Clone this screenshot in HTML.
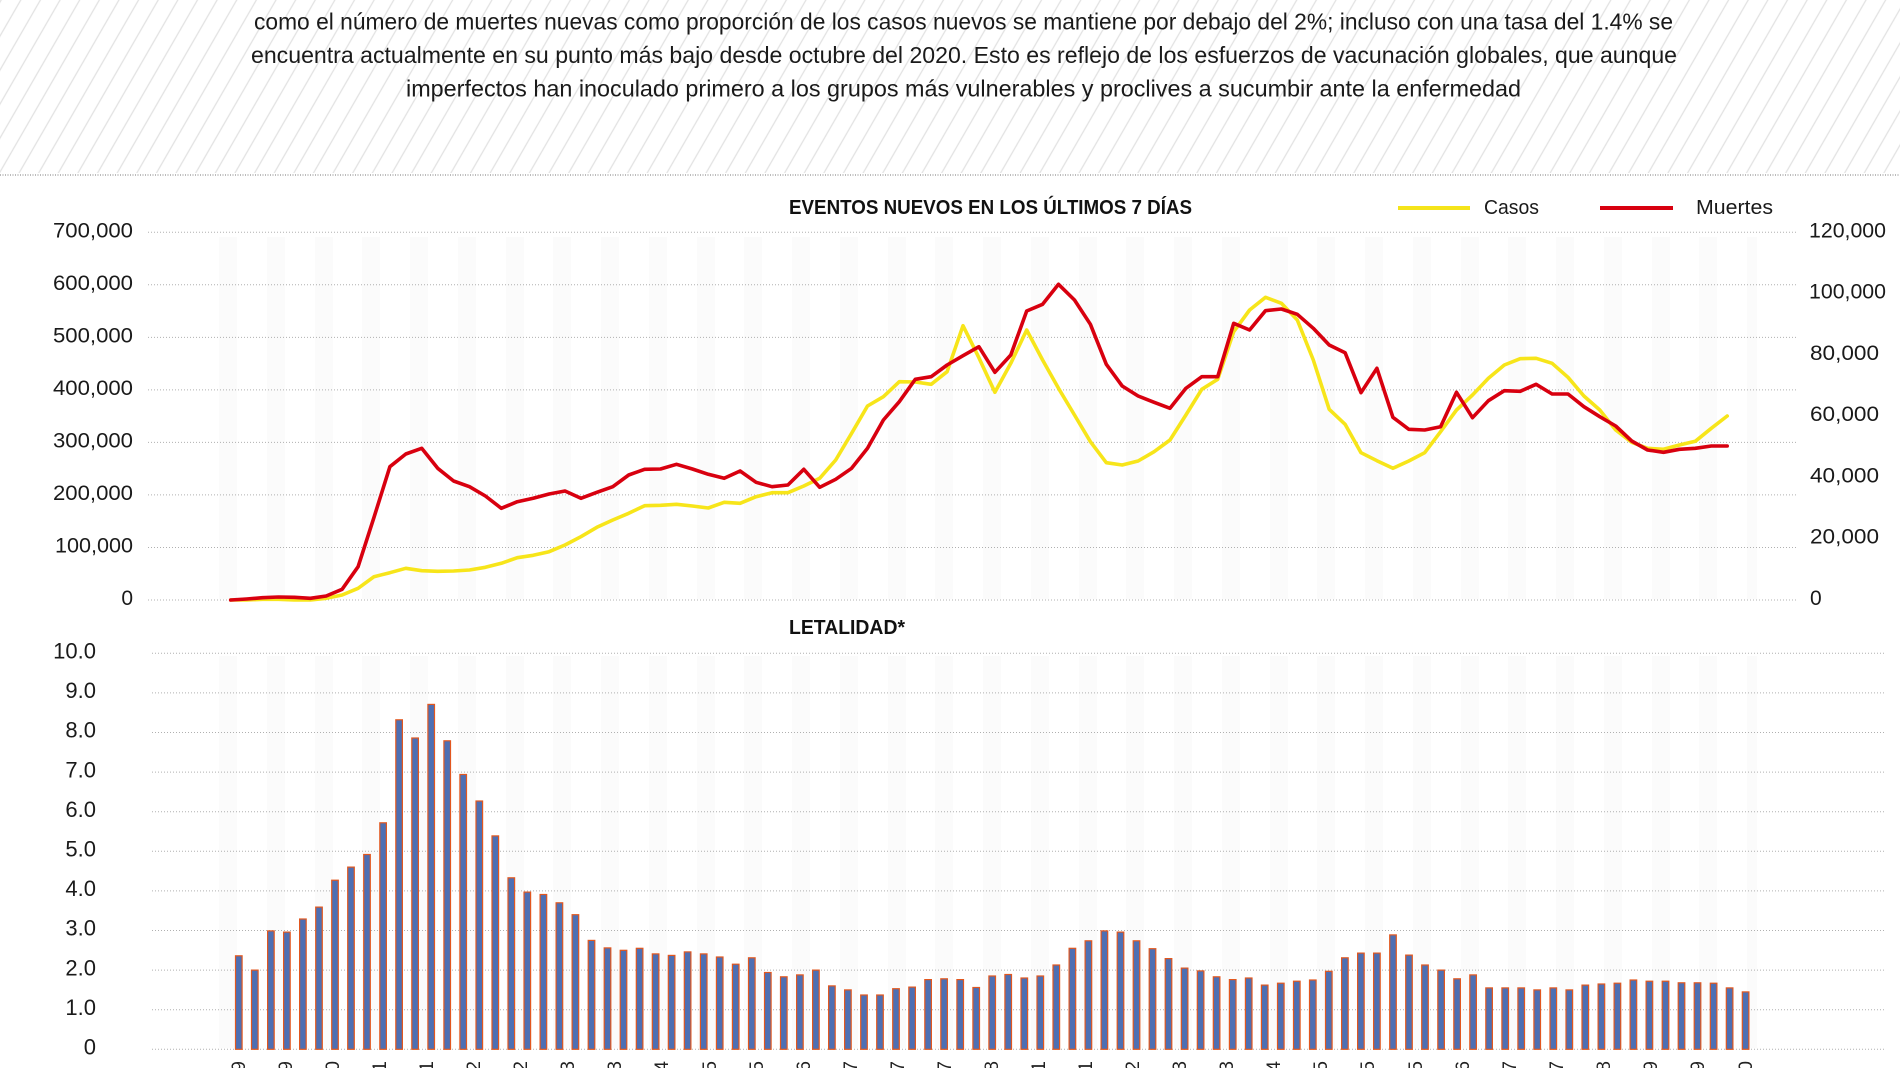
<!DOCTYPE html>
<html><head><meta charset="utf-8"><style>
html,body{margin:0;padding:0;background:#fff;width:1900px;height:1068px;overflow:hidden;}
svg{display:block;}
text{font-family:"Liberation Sans",Arial,sans-serif;}
</style></head><body>
<svg width="1900" height="1068" viewBox="0 0 1900 1068" xmlns="http://www.w3.org/2000/svg">
<defs>
<pattern id="h" width="17" height="40" patternUnits="userSpaceOnUse" patternTransform="rotate(30)">
<line x1="1" y1="0" x2="1" y2="40" stroke="#e2e2e2" stroke-width="1.3"/>
</pattern>
<clipPath id="cl"><rect x="0" y="1050" width="1900" height="18"/></clipPath>
</defs>
<rect x="0" y="0" width="1900" height="1068" fill="#fff"/>
<rect x="0" y="0" width="1900" height="173" fill="url(#h)"/>
<!-- header text -->
<g fill="#1a1a1a" font-size="23">
<text x="254" y="29.5" textLength="1419" lengthAdjust="spacingAndGlyphs">como el número de muertes nuevas como proporción de los casos nuevos se mantiene por debajo del 2%; incluso con una tasa del 1.4% se</text>
<text x="251" y="63" textLength="1426" lengthAdjust="spacingAndGlyphs">encuentra actualmente en su punto más bajo desde octubre del 2020. Esto es reflejo de los esfuerzos de vacunación globales, que aunque</text>
<text x="406" y="96.5" textLength="1115" lengthAdjust="spacingAndGlyphs">imperfectos han inoculado primero a los grupos más vulnerables y proclives a sucumbir ante la enfermedad</text>
</g>
<line x1="0" y1="175" x2="1900" y2="175" stroke="#777" stroke-width="1" stroke-dasharray="1 1.5"/>

<!-- faint vertical bands -->
<g fill="#fbfbfb">
<rect x="219" y="237" width="18" height="362"/><rect x="267" y="237" width="18" height="362"/><rect x="315" y="237" width="18" height="362"/><rect x="362" y="237" width="18" height="362"/><rect x="410" y="237" width="18" height="362"/><rect x="458" y="237" width="18" height="362"/><rect x="506" y="237" width="18" height="362"/><rect x="553" y="237" width="18" height="362"/><rect x="601" y="237" width="18" height="362"/><rect x="649" y="237" width="18" height="362"/><rect x="697" y="237" width="18" height="362"/><rect x="744" y="237" width="18" height="362"/><rect x="792" y="237" width="18" height="362"/><rect x="840" y="237" width="18" height="362"/><rect x="888" y="237" width="18" height="362"/><rect x="935" y="237" width="18" height="362"/><rect x="983" y="237" width="18" height="362"/><rect x="1031" y="237" width="18" height="362"/><rect x="1079" y="237" width="18" height="362"/><rect x="1126" y="237" width="18" height="362"/><rect x="1174" y="237" width="18" height="362"/><rect x="1222" y="237" width="18" height="362"/><rect x="1270" y="237" width="18" height="362"/><rect x="1317" y="237" width="18" height="362"/><rect x="1365" y="237" width="18" height="362"/><rect x="1413" y="237" width="18" height="362"/><rect x="1461" y="237" width="18" height="362"/><rect x="1508" y="237" width="18" height="362"/><rect x="1556" y="237" width="18" height="362"/><rect x="1604" y="237" width="18" height="362"/><rect x="1652" y="237" width="18" height="362"/><rect x="1699" y="237" width="18" height="362"/><rect x="1747" y="237" width="10" height="362"/>
<rect x="219" y="656" width="18" height="392"/><rect x="267" y="656" width="18" height="392"/><rect x="315" y="656" width="18" height="392"/><rect x="362" y="656" width="18" height="392"/><rect x="410" y="656" width="18" height="392"/><rect x="458" y="656" width="18" height="392"/><rect x="506" y="656" width="18" height="392"/><rect x="553" y="656" width="18" height="392"/><rect x="601" y="656" width="18" height="392"/><rect x="649" y="656" width="18" height="392"/><rect x="697" y="656" width="18" height="392"/><rect x="744" y="656" width="18" height="392"/><rect x="792" y="656" width="18" height="392"/><rect x="840" y="656" width="18" height="392"/><rect x="888" y="656" width="18" height="392"/><rect x="935" y="656" width="18" height="392"/><rect x="983" y="656" width="18" height="392"/><rect x="1031" y="656" width="18" height="392"/><rect x="1079" y="656" width="18" height="392"/><rect x="1126" y="656" width="18" height="392"/><rect x="1174" y="656" width="18" height="392"/><rect x="1222" y="656" width="18" height="392"/><rect x="1270" y="656" width="18" height="392"/><rect x="1317" y="656" width="18" height="392"/><rect x="1365" y="656" width="18" height="392"/><rect x="1413" y="656" width="18" height="392"/><rect x="1461" y="656" width="18" height="392"/><rect x="1508" y="656" width="18" height="392"/><rect x="1556" y="656" width="18" height="392"/><rect x="1604" y="656" width="18" height="392"/><rect x="1652" y="656" width="18" height="392"/><rect x="1699" y="656" width="18" height="392"/><rect x="1747" y="656" width="10" height="392"/>
</g>

<!-- top chart gridlines -->
<g stroke="#b0b0b0" stroke-width="1" stroke-dasharray="1 2">
<line x1="148" y1="232.3" x2="1797" y2="232.3"/>
<line x1="148" y1="284.8" x2="1797" y2="284.8"/>
<line x1="148" y1="337.4" x2="1797" y2="337.4"/>
<line x1="148" y1="389.9" x2="1797" y2="389.9"/>
<line x1="148" y1="442.4" x2="1797" y2="442.4"/>
<line x1="148" y1="494.9" x2="1797" y2="494.9"/>
<line x1="148" y1="547.5" x2="1797" y2="547.5"/>
<line x1="148" y1="600" x2="1797" y2="600"/>
</g>
<!-- top left labels -->
<g fill="#1a1a1a" font-size="21" text-anchor="end">
<text x="133" y="237.3" textLength="80" lengthAdjust="spacingAndGlyphs">700,000</text>
<text x="133" y="289.8" textLength="80" lengthAdjust="spacingAndGlyphs">600,000</text>
<text x="133" y="342.4" textLength="80" lengthAdjust="spacingAndGlyphs">500,000</text>
<text x="133" y="394.9" textLength="80" lengthAdjust="spacingAndGlyphs">400,000</text>
<text x="133" y="447.4" textLength="80" lengthAdjust="spacingAndGlyphs">300,000</text>
<text x="133" y="499.9" textLength="80" lengthAdjust="spacingAndGlyphs">200,000</text>
<text x="133" y="552.5" textLength="78" lengthAdjust="spacingAndGlyphs">100,000</text>
<text x="133" y="605">0</text>
</g>
<!-- top right labels -->
<g fill="#1a1a1a" font-size="21">
<text x="1809" y="237.3" textLength="77" lengthAdjust="spacingAndGlyphs">120,000</text>
<text x="1809" y="298.6" textLength="77" lengthAdjust="spacingAndGlyphs">100,000</text>
<text x="1810" y="359.9" textLength="69" lengthAdjust="spacingAndGlyphs">80,000</text>
<text x="1810" y="421.2" textLength="69" lengthAdjust="spacingAndGlyphs">60,000</text>
<text x="1810" y="482.4" textLength="69" lengthAdjust="spacingAndGlyphs">40,000</text>
<text x="1810" y="543.7" textLength="69" lengthAdjust="spacingAndGlyphs">20,000</text>
<text x="1810" y="605">0</text>
</g>
<!-- titles -->
<text x="789" y="214" font-size="20" font-weight="bold" fill="#111" textLength="403" lengthAdjust="spacingAndGlyphs">EVENTOS NUEVOS EN LOS ÚLTIMOS 7 DÍAS</text>
<text x="789" y="634" font-size="20" font-weight="bold" fill="#111" textLength="116" lengthAdjust="spacingAndGlyphs">LETALIDAD*</text>
<!-- legend -->
<line x1="1398" y1="208" x2="1470" y2="208" stroke="#f5e41a" stroke-width="4"/>
<text x="1484" y="214" font-size="20" fill="#1a1a1a" textLength="55" lengthAdjust="spacingAndGlyphs">Casos</text>
<line x1="1600" y1="208" x2="1673" y2="208" stroke="#d8000f" stroke-width="4"/>
<text x="1696" y="214" font-size="20" fill="#1a1a1a" textLength="77" lengthAdjust="spacingAndGlyphs">Muertes</text>

<!-- Casos line -->
<polyline fill="none" stroke="#f7e51a" stroke-width="3.6" stroke-linejoin="round" stroke-linecap="round" points="230.7,600 246.6,600 262.5,599.3 278.5,599.3 294.4,600 310.3,600 326.2,598.3 342.1,595 358.1,588.3 374.0,576.7 389.9,572.7 405.8,568.3 421.7,570.7 437.7,571.3 453.6,571 469.5,570 485.4,567.3 501.3,563.3 517.3,557.7 533.2,555.3 549.1,551.7 565.0,545 580.9,536.7 596.9,527.3 612.8,520 628.7,513.3 644.6,505.7 660.5,505.3 676.5,504.3 692.4,506 708.3,508 724.2,502.3 740.1,503.3 756.1,496.7 772.0,492.7 787.9,492.7 803.8,486 819.7,478.3 835.7,460 851.6,433.3 867.5,406 883.4,396.7 899.3,381.7 915.3,382 931.2,384.3 947.1,371.7 963.0,325.7 978.9,357.7 994.9,392.3 1010.8,363.3 1026.7,330 1042.6,360 1058.5,388.3 1074.5,415 1090.4,441.7 1106.3,462.7 1122.2,465 1138.1,461 1154.1,451.7 1170.0,440 1185.9,415 1201.8,389.3 1217.7,379.3 1233.7,331.7 1249.6,310 1265.5,297.3 1281.4,303.3 1297.3,320 1313.3,360 1329.2,409.3 1345.1,424.3 1361.0,452.7 1376.9,460.7 1392.9,468.3 1408.8,461 1424.7,452.7 1440.6,431.7 1456.5,410 1472.5,395 1488.4,378.3 1504.3,365 1520.2,358.7 1536.1,358.3 1552.1,363.3 1568.0,377.3 1583.9,396 1599.8,410 1615.7,430 1631.7,442.3 1647.6,448.3 1663.5,449.3 1679.4,445 1695.3,441.3 1711.3,428.3 1727.2,416"/>
<!-- Muertes line -->
<polyline fill="none" stroke="#d8000f" stroke-width="3.6" stroke-linejoin="round" stroke-linecap="round" points="230.7,600 246.6,599 262.5,597.7 278.5,597 294.4,597.3 310.3,598.3 326.2,596 342.1,589.3 358.1,566.7 374.0,517.3 389.9,466.7 405.8,454 421.7,448.3 437.7,468.3 453.6,481 469.5,486.7 485.4,496 501.3,508.3 517.3,501.7 533.2,498.3 549.1,494 565.0,491 580.9,498.3 596.9,492.3 612.8,486.7 628.7,475 644.6,469.3 660.5,469 676.5,464.3 692.4,469 708.3,474.3 724.2,478.3 740.1,471 756.1,482.3 772.0,486.7 787.9,485 803.8,469.3 819.7,487.3 835.7,479.3 851.6,468.3 867.5,448.3 883.4,420 899.3,401.7 915.3,379.3 931.2,376.7 947.1,365 963.0,355.7 978.9,346.7 994.9,372.3 1010.8,355 1026.7,311 1042.6,304.3 1058.5,284.3 1074.5,300 1090.4,324.3 1106.3,364.3 1122.2,386 1138.1,396 1154.1,402.3 1170.0,408.3 1185.9,388.3 1201.8,376.7 1217.7,376.7 1233.7,323.3 1249.6,330 1265.5,310.7 1281.4,309 1297.3,314.3 1313.3,328.3 1329.2,345 1345.1,352.7 1361.0,392.7 1376.9,368.3 1392.9,417.3 1408.8,429.3 1424.7,430 1440.6,426.7 1456.5,392.3 1472.5,417.7 1488.4,400.7 1504.3,390.7 1520.2,391.3 1536.1,384.3 1552.1,394 1568.0,394 1583.9,406.7 1599.8,416.7 1615.7,426 1631.7,441 1647.6,450 1663.5,452.3 1679.4,449.3 1695.3,448.3 1711.3,446 1727.2,446"/>

<!-- bottom chart gridlines -->
<g stroke="#b0b0b0" stroke-width="1" stroke-dasharray="1 2">
<line x1="152" y1="653.3" x2="1886" y2="653.3"/>
<line x1="152" y1="692.9" x2="1886" y2="692.9"/>
<line x1="152" y1="732.5" x2="1886" y2="732.5"/>
<line x1="152" y1="772.1" x2="1886" y2="772.1"/>
<line x1="152" y1="811.7" x2="1886" y2="811.7"/>
<line x1="152" y1="851.3" x2="1886" y2="851.3"/>
<line x1="152" y1="890.9" x2="1886" y2="890.9"/>
<line x1="152" y1="930.5" x2="1886" y2="930.5"/>
<line x1="152" y1="970.1" x2="1886" y2="970.1"/>
<line x1="152" y1="1009.7" x2="1886" y2="1009.7"/>
<line x1="152" y1="1049.3" x2="1886" y2="1049.3"/>
</g>
<g fill="#1a1a1a" font-size="22" text-anchor="end">
<text x="96" y="658.5">10.0</text>
<text x="96" y="698.1">9.0</text>
<text x="96" y="737.7">8.0</text>
<text x="96" y="777.3">7.0</text>
<text x="96" y="816.9">6.0</text>
<text x="96" y="856.5">5.0</text>
<text x="96" y="896.1">4.0</text>
<text x="96" y="935.7">3.0</text>
<text x="96" y="975.3">2.0</text>
<text x="96" y="1014.9">1.0</text>
<text x="96" y="1054.5">0</text>
</g>

<!-- bars -->
<g transform="translate(0,1049.3) scale(1,-1)" fill="#4e6fb3" stroke="#e2571f" stroke-width="1.2">
<rect x="235.5" y="0" width="6.6" height="93.5"/>
<rect x="251.5" y="0" width="6.6" height="79.2"/>
<rect x="267.6" y="0" width="6.6" height="118.4"/>
<rect x="283.6" y="0" width="6.6" height="117.2"/>
<rect x="299.6" y="0" width="6.6" height="130.3"/>
<rect x="315.7" y="0" width="6.6" height="142.2"/>
<rect x="331.7" y="0" width="6.6" height="169.1"/>
<rect x="347.7" y="0" width="6.6" height="182.2"/>
<rect x="363.7" y="0" width="6.6" height="194.8"/>
<rect x="379.8" y="0" width="6.6" height="226.5"/>
<rect x="395.8" y="0" width="6.6" height="329.5"/>
<rect x="411.8" y="0" width="6.6" height="311.3"/>
<rect x="427.9" y="0" width="6.6" height="344.9"/>
<rect x="443.9" y="0" width="6.6" height="308.5"/>
<rect x="459.9" y="0" width="6.6" height="274.8"/>
<rect x="476.0" y="0" width="6.6" height="248.3"/>
<rect x="492.0" y="0" width="6.6" height="213.4"/>
<rect x="508.0" y="0" width="6.6" height="171.5"/>
<rect x="524.0" y="0" width="6.6" height="157.2"/>
<rect x="540.1" y="0" width="6.6" height="154.8"/>
<rect x="556.1" y="0" width="6.6" height="146.5"/>
<rect x="572.1" y="0" width="6.6" height="134.6"/>
<rect x="588.2" y="0" width="6.6" height="108.9"/>
<rect x="604.2" y="0" width="6.6" height="101.4"/>
<rect x="620.2" y="0" width="6.6" height="99.0"/>
<rect x="636.3" y="0" width="6.6" height="101.0"/>
<rect x="652.3" y="0" width="6.6" height="95.4"/>
<rect x="668.3" y="0" width="6.6" height="93.9"/>
<rect x="684.3" y="0" width="6.6" height="97.4"/>
<rect x="700.4" y="0" width="6.6" height="95.4"/>
<rect x="716.4" y="0" width="6.6" height="92.3"/>
<rect x="732.4" y="0" width="6.6" height="85.1"/>
<rect x="748.5" y="0" width="6.6" height="91.5"/>
<rect x="764.5" y="0" width="6.6" height="76.8"/>
<rect x="780.5" y="0" width="6.6" height="72.5"/>
<rect x="796.6" y="0" width="6.6" height="74.4"/>
<rect x="812.6" y="0" width="6.6" height="79.2"/>
<rect x="828.6" y="0" width="6.6" height="63.4"/>
<rect x="844.6" y="0" width="6.6" height="59.4"/>
<rect x="860.7" y="0" width="6.6" height="54.3"/>
<rect x="876.7" y="0" width="6.6" height="54.3"/>
<rect x="892.7" y="0" width="6.6" height="60.6"/>
<rect x="908.8" y="0" width="6.6" height="62.2"/>
<rect x="924.8" y="0" width="6.6" height="69.7"/>
<rect x="940.8" y="0" width="6.6" height="70.5"/>
<rect x="956.9" y="0" width="6.6" height="69.7"/>
<rect x="972.9" y="0" width="6.6" height="61.8"/>
<rect x="988.9" y="0" width="6.6" height="73.3"/>
<rect x="1004.9" y="0" width="6.6" height="74.8"/>
<rect x="1021.0" y="0" width="6.6" height="71.3"/>
<rect x="1037.0" y="0" width="6.6" height="73.3"/>
<rect x="1053.0" y="0" width="6.6" height="84.3"/>
<rect x="1069.1" y="0" width="6.6" height="101.0"/>
<rect x="1085.1" y="0" width="6.6" height="108.5"/>
<rect x="1101.1" y="0" width="6.6" height="118.4"/>
<rect x="1117.2" y="0" width="6.6" height="117.2"/>
<rect x="1133.2" y="0" width="6.6" height="108.5"/>
<rect x="1149.2" y="0" width="6.6" height="100.6"/>
<rect x="1165.2" y="0" width="6.6" height="90.7"/>
<rect x="1181.3" y="0" width="6.6" height="81.2"/>
<rect x="1197.3" y="0" width="6.6" height="78.4"/>
<rect x="1213.3" y="0" width="6.6" height="72.5"/>
<rect x="1229.4" y="0" width="6.6" height="69.7"/>
<rect x="1245.4" y="0" width="6.6" height="71.3"/>
<rect x="1261.4" y="0" width="6.6" height="64.2"/>
<rect x="1277.5" y="0" width="6.6" height="66.1"/>
<rect x="1293.5" y="0" width="6.6" height="68.1"/>
<rect x="1309.5" y="0" width="6.6" height="69.3"/>
<rect x="1325.5" y="0" width="6.6" height="78.0"/>
<rect x="1341.6" y="0" width="6.6" height="91.5"/>
<rect x="1357.6" y="0" width="6.6" height="96.2"/>
<rect x="1373.6" y="0" width="6.6" height="96.2"/>
<rect x="1389.7" y="0" width="6.6" height="114.4"/>
<rect x="1405.7" y="0" width="6.6" height="94.2"/>
<rect x="1421.7" y="0" width="6.6" height="84.3"/>
<rect x="1437.8" y="0" width="6.6" height="79.2"/>
<rect x="1453.8" y="0" width="6.6" height="70.5"/>
<rect x="1469.8" y="0" width="6.6" height="74.4"/>
<rect x="1485.8" y="0" width="6.6" height="61.4"/>
<rect x="1501.9" y="0" width="6.6" height="61.4"/>
<rect x="1517.9" y="0" width="6.6" height="61.4"/>
<rect x="1533.9" y="0" width="6.6" height="59.4"/>
<rect x="1550.0" y="0" width="6.6" height="61.4"/>
<rect x="1566.0" y="0" width="6.6" height="59.4"/>
<rect x="1582.0" y="0" width="6.6" height="64.2"/>
<rect x="1598.1" y="0" width="6.6" height="65.3"/>
<rect x="1614.1" y="0" width="6.6" height="66.1"/>
<rect x="1630.1" y="0" width="6.6" height="69.3"/>
<rect x="1646.1" y="0" width="6.6" height="68.1"/>
<rect x="1662.2" y="0" width="6.6" height="68.1"/>
<rect x="1678.2" y="0" width="6.6" height="66.5"/>
<rect x="1694.2" y="0" width="6.6" height="66.5"/>
<rect x="1710.3" y="0" width="6.6" height="66.1"/>
<rect x="1726.3" y="0" width="6.6" height="61.4"/>
<rect x="1742.3" y="0" width="6.6" height="57.4"/>
</g>

<!-- x-axis labels (cut off at frame edge) -->
<g fill="#222" font-size="19" text-anchor="end" clip-path="url(#cl)">
<text transform="translate(245,1061) rotate(-90)">9</text>
<text transform="translate(292,1061) rotate(-90)">9</text>
<text transform="translate(339,1061) rotate(-90)">0</text>
<text transform="translate(386,1061) rotate(-90)">1</text>
<text transform="translate(433,1061) rotate(-90)">1</text>
<text transform="translate(480,1061) rotate(-90)">2</text>
<text transform="translate(527,1061) rotate(-90)">2</text>
<text transform="translate(574,1061) rotate(-90)">3</text>
<text transform="translate(621,1061) rotate(-90)">3</text>
<text transform="translate(668,1061) rotate(-90)">4</text>
<text transform="translate(716,1061) rotate(-90)">5</text>
<text transform="translate(763,1061) rotate(-90)">5</text>
<text transform="translate(810,1061) rotate(-90)">6</text>
<text transform="translate(857,1061) rotate(-90)">7</text>
<text transform="translate(904,1061) rotate(-90)">7</text>
<text transform="translate(951,1061) rotate(-90)">7</text>
<text transform="translate(998,1061) rotate(-90)">8</text>
<text transform="translate(1045,1061) rotate(-90)">1</text>
<text transform="translate(1092,1061) rotate(-90)">1</text>
<text transform="translate(1139,1061) rotate(-90)">2</text>
<text transform="translate(1186,1061) rotate(-90)">3</text>
<text transform="translate(1233,1061) rotate(-90)">3</text>
<text transform="translate(1280,1061) rotate(-90)">4</text>
<text transform="translate(1327,1061) rotate(-90)">5</text>
<text transform="translate(1374,1061) rotate(-90)">5</text>
<text transform="translate(1422,1061) rotate(-90)">5</text>
<text transform="translate(1469,1061) rotate(-90)">6</text>
<text transform="translate(1516,1061) rotate(-90)">7</text>
<text transform="translate(1563,1061) rotate(-90)">7</text>
<text transform="translate(1610,1061) rotate(-90)">8</text>
<text transform="translate(1657,1061) rotate(-90)">9</text>
<text transform="translate(1704,1061) rotate(-90)">9</text>
<text transform="translate(1752,1061) rotate(-90)">0</text>
</g>
</svg>
</body></html>
